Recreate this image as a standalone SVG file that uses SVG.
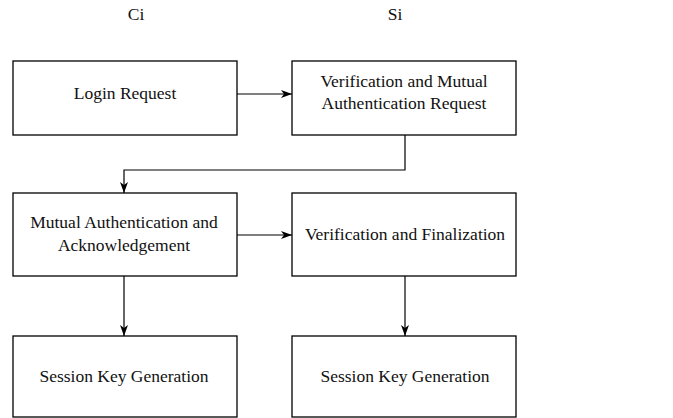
<svg xmlns="http://www.w3.org/2000/svg" width="673" height="418" viewBox="0 0 673 418">
<style>
.box{fill:#fff;stroke:#000;stroke-width:1.3}
.t{font-family:"Liberation Serif","Times New Roman",serif;font-size:17.5px;fill:#111;text-anchor:middle}
.c{fill:none;stroke:#000;stroke-width:1.2}
</style>
<defs>
<marker id="ah" markerUnits="userSpaceOnUse" markerWidth="12" markerHeight="10" refX="11" refY="5" orient="auto">
<path d="M0,1 L11,5 L0,9 L3,5 Z" fill="#000"/>
</marker>
</defs>
<rect width="673" height="418" fill="#fff"/>
<text class="t" x="136" y="20">Ci</text>
<text class="t" x="395" y="20">Si</text>
<g id="login"><rect class="box" x="13" y="61" width="224" height="74"/><text class="t" x="125" y="99">Login Request</text></g>
<g id="verif1"><rect class="box" x="292" y="61" width="224" height="74"/><text class="t" x="404" y="87">Verification and Mutual</text><text class="t" x="404" y="109">Authentication Request</text></g>
<g id="mutual"><rect class="box" x="13" y="193" width="224" height="83"/><text class="t" x="124" y="228">Mutual Authentication and</text><text class="t" x="124" y="251">Acknowledgement</text></g>
<g id="verif2"><rect class="box" x="292" y="193" width="224" height="83"/><text class="t" x="405" y="240">Verification and Finalization</text></g>
<g id="skc"><rect class="box" x="13" y="336" width="224" height="81"/><text class="t" x="124" y="382">Session Key Generation</text></g>
<g id="sks"><rect class="box" x="292" y="336" width="224" height="81"/><text class="t" x="405" y="382">Session Key Generation</text></g>
<g id="connectors">
<path class="c" d="M237,94 H292" marker-end="url(#ah)"/>
<path class="c" d="M405,135 V170 H124 V193" marker-end="url(#ah)"/>
<path class="c" d="M237,235 H292" marker-end="url(#ah)"/>
<path class="c" d="M124,276 V336" marker-end="url(#ah)"/>
<path class="c" d="M405,276 V336" marker-end="url(#ah)"/>
</g>
</svg>
